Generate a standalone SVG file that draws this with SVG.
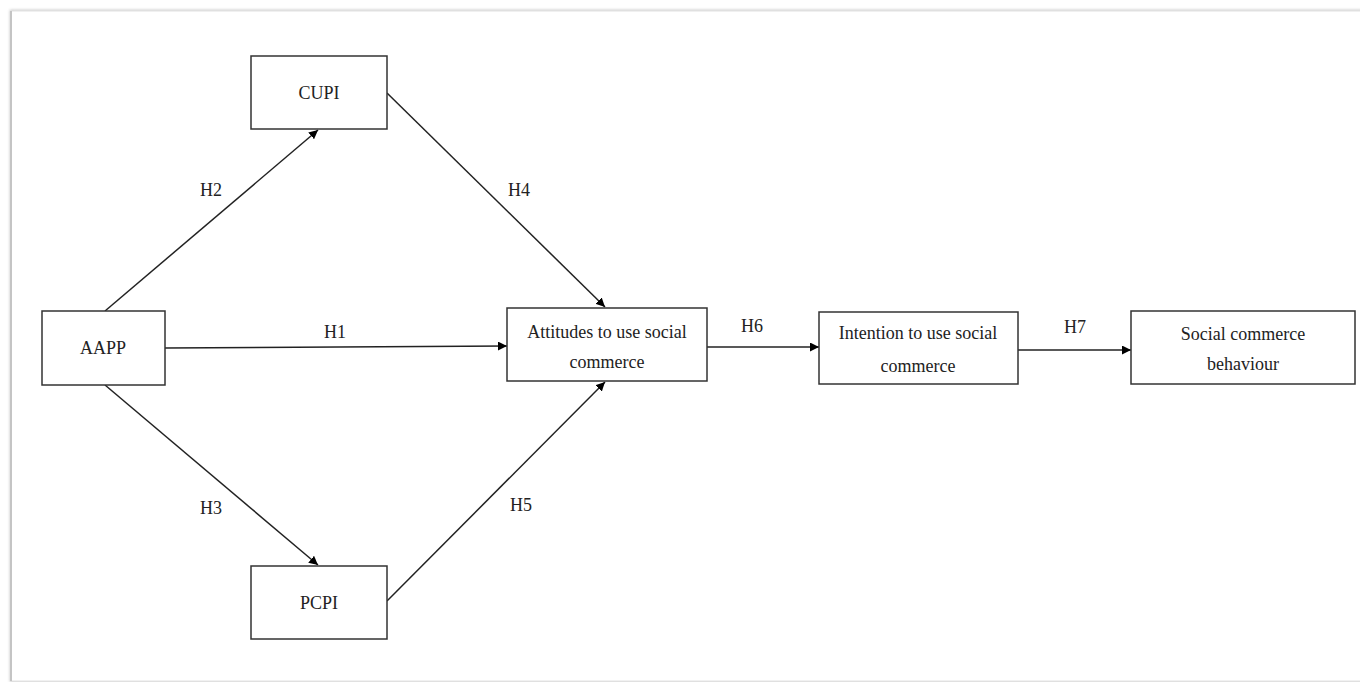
<svg xmlns="http://www.w3.org/2000/svg" width="1360" height="682" viewBox="0 0 1360 682">
<defs>
<marker id="ah" viewBox="0 0 10 10" refX="10" refY="5" markerWidth="9" markerHeight="9" markerUnits="userSpaceOnUse" orient="auto">
<path d="M0,0 L10,5 L0,10 Z" fill="#000"/>
</marker>
<filter id="sh" x="-5%" y="-5%" width="110%" height="110%">
<feGaussianBlur stdDeviation="1.5"/>
</filter>
</defs>
<style>
.box{fill:#fff;stroke:#333;stroke-width:1.5}
.t{font-family:"Liberation Serif","Times New Roman",serif;font-size:18px;fill:#222;text-anchor:middle}
.c{stroke:#222;stroke-width:1.5;fill:none;marker-end:url(#ah)}
</style>
<rect x="0" y="0" width="1360" height="682" fill="#fff"/>
<g id="frame">
<rect x="11" y="11" width="1360" height="670" fill="none" stroke="#bbb" stroke-width="2" filter="url(#sh)"/>
<rect x="11" y="11" width="1360" height="670" fill="#fff" stroke="#e2e2e2" stroke-width="1"/>
<line x1="11" y1="11" x2="11" y2="681" stroke="#c4c4c4" stroke-width="2"/>
</g>
<g id="connectors">
<line class="c" x1="105" y1="311" x2="318" y2="130"/>
<line class="c" x1="105" y1="385" x2="318" y2="565"/>
<line class="c" x1="165" y1="348" x2="507" y2="346"/>
<line class="c" x1="387" y1="93" x2="605" y2="307"/>
<line class="c" x1="387" y1="601" x2="605" y2="382"/>
<line class="c" x1="707" y1="347" x2="819" y2="347"/>
<line class="c" x1="1018" y1="350" x2="1131" y2="350"/>
<text class="t" x="335" y="338">H1</text>
<text class="t" x="211" y="196">H2</text>
<text class="t" x="211" y="514">H3</text>
<text class="t" x="519" y="196">H4</text>
<text class="t" x="521" y="511">H5</text>
<text class="t" x="752" y="332">H6</text>
<text class="t" x="1075" y="333">H7</text>
</g>
<g id="CUPI">
<rect class="box" x="251" y="56" width="136" height="73"/>
<text class="t" x="319" y="99">CUPI</text>
</g>
<g id="PCPI">
<rect class="box" x="251" y="566" width="136" height="73"/>
<text class="t" x="319" y="609">PCPI</text>
</g>
<g id="AAPP">
<rect class="box" x="42" y="311" width="123" height="74"/>
<text class="t" x="103" y="354">AAPP</text>
</g>
<g id="Attitudes">
<rect class="box" x="507" y="308" width="200" height="73"/>
<text class="t" x="607" y="338">Attitudes  to use social</text>
<text class="t" x="607" y="368">commerce</text>
</g>
<g id="Intention">
<rect class="box" x="819" y="312" width="199" height="72"/>
<text class="t" x="918" y="339">Intention  to use social</text>
<text class="t" x="918" y="372">commerce</text>
</g>
<g id="Behaviour">
<rect class="box" x="1131" y="311" width="224" height="73"/>
<text class="t" x="1243" y="340">Social  commerce</text>
<text class="t" x="1243" y="370">behaviour</text>
</g>
</svg>
